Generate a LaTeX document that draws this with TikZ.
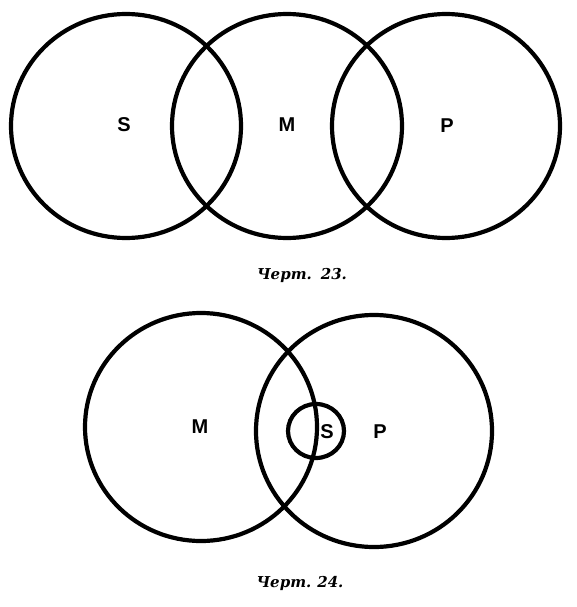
\documentclass[tikz,border=0pt]{standalone}
\usepackage{fontspec}
\setmainfont{Liberation Serif}
\setsansfont{Liberation Sans}
\newfontfamily\capfont{DejaVu Serif}
\usetikzlibrary{shapes.geometric}
\begin{document}
\begin{tikzpicture}[x=1pt,y=-1pt,
  ring/.style={draw=black,line width=4.2pt,ellipse,inner sep=0pt,outer sep=0pt},
  lbl/.style={font=\sffamily\bfseries\fontsize{20}{20}\selectfont,inner sep=0pt},
  captext/.style={font=\capfont\bfseries\itshape\fontsize{15}{15}\selectfont,inner sep=0pt}]
\useasboundingbox (0,0) rectangle (577,607);
% Figure 23
\node[ring,minimum width=230pt,minimum height=224pt] (cS) at (126,126) {};
\node[ring,minimum width=230pt,minimum height=224pt] (cM) at (287,126) {};
\node[ring,minimum width=228pt,minimum height=224pt] (cP) at (446,126) {};
\node[lbl] (tS) at (124,125) {S};
\node[lbl] (tM) at (287,125) {M};
\node[lbl] (tP) at (447,126) {P};
\node[captext] (c23) at (302,275) {Черт.\hspace{9pt}23.};
% Figure 24
\node[ring,minimum width=232pt,minimum height=228pt] (bM) at (201,427) {};
\node[ring,minimum width=236pt,minimum height=232pt] (bP) at (374,431) {};
\node[ring,minimum width=56pt,minimum height=54pt] (bS) at (316,431) {};
\node[lbl] (uM) at (200,427) {M};
\node[lbl] (uS) at (327,432) {S};
\node[lbl] (uP) at (380,432) {P};
\node[captext] (c24) at (300,583) {Черт.\hspace{6pt}24.};
\end{tikzpicture}
\end{document}
